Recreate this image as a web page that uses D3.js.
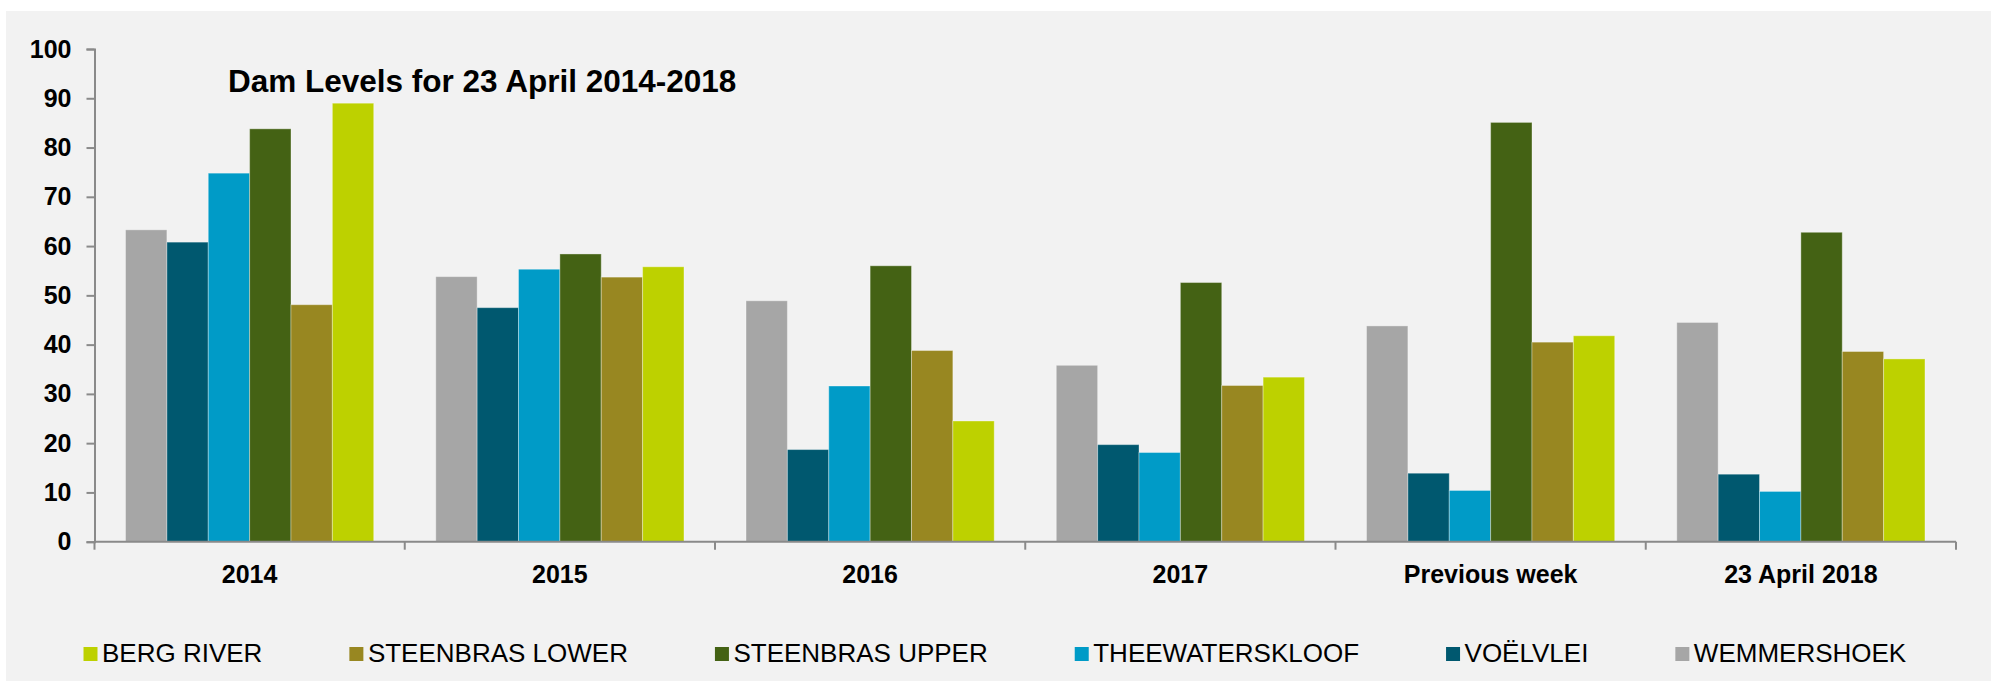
<!DOCTYPE html>
<html>
<head>
<meta charset="utf-8">
<script src="https://cdn.jsdelivr.net/npm/d3@7"></script>
<style>
  html, body { margin: 0; padding: 0; background: #ffffff; }
  svg { display: block; }
</style>
</head>
<body>
<svg id="chart" width="1991" height="681"></svg>
<script>
// ---- Data ----
const categories = ["2014", "2015", "2016", "2017", "Previous week", "23 April 2018"];
const seriesNames = ["WEMMERSHOEK", "VOËLVLEI", "THEEWATERSKLOOF", "STEENBRAS UPPER", "STEENBRAS LOWER", "BERG RIVER"];
const wemmershoek     = [63.3, 53.8, 48.9, 35.8, 43.8, 44.5];
const voelvlei        = [60.8, 47.5, 18.7, 19.7, 13.9, 13.7];
const theewaterskloof = [74.8, 55.3, 31.6, 18.1, 10.4, 10.2];
const steenbrasUpper  = [83.8, 58.4, 56.0, 52.6, 85.1, 62.8];
const steenbrasLower  = [48.1, 53.7, 38.8, 31.7, 40.5, 38.6];
const bergRiver       = [89.0, 55.8, 24.5, 33.4, 41.8, 37.1];
const yTicks = [0, 10, 20, 30, 40, 50, 60, 70, 80, 90, 100];
const legendOrder = ["BERG RIVER", "STEENBRAS LOWER", "STEENBRAS UPPER", "THEEWATERSKLOOF", "VOËLVLEI", "WEMMERSHOEK"];
const title = "Dam Levels for 23 April 2014-2018";

const seriesValues = {
  "WEMMERSHOEK": wemmershoek,
  "VOËLVLEI": voelvlei,
  "THEEWATERSKLOOF": theewaterskloof,
  "STEENBRAS UPPER": steenbrasUpper,
  "STEENBRAS LOWER": steenbrasLower,
  "BERG RIVER": bergRiver
};
const colors = {
  "WEMMERSHOEK": "#a6a6a6",
  "VOËLVLEI": "#00586f",
  "THEEWATERSKLOOF": "#009bc7",
  "STEENBRAS UPPER": "#446214",
  "STEENBRAS LOWER": "#988721",
  "BERG RIVER": "#bdd100"
};

// ---- Layout ----
const svg = d3.select("#chart");
const W = 1991, H = 681;
const fontFam = "'Liberation Sans', Arial, Helvetica, sans-serif";

svg.append("rect").attr("x", 0).attr("y", 0).attr("width", W).attr("height", H).attr("fill", "#ffffff");
svg.append("rect").attr("x", 6).attr("y", 11).attr("width", W - 6).attr("height", H - 11).attr("fill", "#f2f2f2");

const plot = { left: 94.5, right: 1956, top: 49, bottom: 541.7 };
const axisColor = "#8a8a8a";

const x0 = d3.scaleBand().domain(categories).range([plot.left, plot.right]).paddingInner(0).paddingOuter(0);
const x1 = d3.scaleBand().domain(seriesNames).range([0, x0.bandwidth()]).paddingInner(0).paddingOuter(0.75);
const y = d3.scaleLinear().domain([0, 100]).range([plot.bottom, plot.top]);

// Bars
const rows = categories.map((c, i) => ({ cat: c, vals: seriesNames.map(s => ({ s, v: seriesValues[s][i] })) }));
const groups = svg.append("g").selectAll("g").data(rows).join("g")
  .attr("transform", d => `translate(${x0(d.cat)},0)`);
groups.selectAll("rect").data(d => d.vals).join("rect")
  .attr("x", d => x1(d.s))
  .attr("y", d => y(d.v))
  .attr("width", x1.bandwidth())
  .attr("height", d => y(0) - y(d.v))
  .attr("fill", d => colors[d.s])
  .attr("stroke", "rgba(255,255,255,0.35)")
  .attr("stroke-width", 1);

// Y axis
const yAxis = d3.axisLeft(y).tickValues(yTicks).tickSize(8).tickPadding(15).tickFormat(d3.format("d"));
const gy = svg.append("g").attr("transform", `translate(${plot.left},0)`).call(yAxis);
gy.select(".domain").attr("stroke", axisColor).attr("stroke-width", 2);
gy.selectAll(".tick line").attr("stroke", axisColor).attr("stroke-width", 2);
gy.selectAll(".tick text").attr("font-family", fontFam).attr("font-size", 25).attr("font-weight", "bold").attr("fill", "#000");

// X axis (ticks at band boundaries)
const gx = svg.append("g").attr("transform", `translate(0,${plot.bottom})`);
gx.append("line").attr("x1", plot.left).attr("x2", plot.right).attr("y1", 0).attr("y2", 0)
  .attr("stroke", axisColor).attr("stroke-width", 2);
const boundaries = categories.map(c => x0(c)).concat([plot.right]);
gx.selectAll("line.tk").data(boundaries).join("line").attr("class", "tk")
  .attr("x1", d => d).attr("x2", d => d).attr("y1", 0).attr("y2", 8)
  .attr("stroke", axisColor).attr("stroke-width", 2);
gx.selectAll("text").data(categories).join("text")
  .attr("x", d => x0(d) + x0.bandwidth() / 2)
  .attr("y", 41.5)
  .attr("text-anchor", "middle")
  .attr("font-family", fontFam).attr("font-size", 25).attr("font-weight", "bold").attr("fill", "#000")
  .text(d => d);

// Title
svg.append("text").attr("x", 228).attr("y", 92)
  .attr("font-family", fontFam).attr("font-size", 31.5).attr("font-weight", "bold").attr("fill", "#000")
  .text(title);

// Legend
const legend = svg.append("g");
let lx = 83.5;
const gap = 87;
legendOrder.forEach(name => {
  const item = legend.append("g");
  item.append("rect").attr("x", lx).attr("y", 647).attr("width", 14).attr("height", 14).attr("fill", colors[name]);
  const t = item.append("text").attr("x", lx + 18.5).attr("y", 662.3)
    .attr("font-family", fontFam).attr("font-size", 26).attr("fill", "#000").text(name);
  const w = t.node().getComputedTextLength();
  lx = lx + 18.5 + w + gap;
});
</script>
</body>
</html>
